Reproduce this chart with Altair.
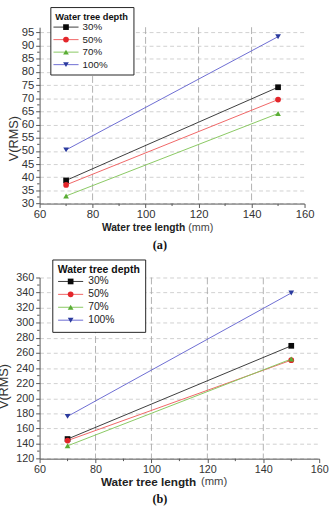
import altair as alt
import pandas as pd

# Measured breakdown voltage against water tree length, per water tree depth
lengths = [70, 150]
depths = ["30%", "50%", "70%", "100%"]

volts_a = {
    "30%": [38.8, 74.2],
    "50%": [37.1, 69.5],
    "70%": [32.9, 64.2],
    "100%": [50.4, 93.4],
}
volts_b = {
    "30%": [146, 269.5],
    "50%": [144, 250.5],
    "70%": [137, 252],
    "100%": [176, 339.5],
}

x_ticks = [60, 80, 100, 120, 140, 160]
x_minor = [70, 90, 110, 130, 150]
x_grid = [80, 100, 120, 140]

y_ticks_a = [30, 35, 40, 45, 50, 55, 60, 65, 70, 75, 80, 85, 90, 95]
y_minor_a = [32.5, 37.5, 42.5, 47.5, 52.5, 57.5, 62.5, 67.5, 72.5, 77.5, 82.5, 87.5, 92.5]
y_ticks_b = [120, 140, 160, 180, 200, 220, 240, 260, 280, 300, 320, 340, 360]
y_minor_b = [130, 150, 170, 190, 210, 230, 250, 270, 290, 310, 330, 350]

line_colors = ["#3a3a3a", "#f06464", "#88c860", "#6c6cd2"]
marker_colors = ["#0a0a0a", "#e3262b", "#5aad35", "#2b3b9e"]
marker_shapes = ["square", "circle", "triangle-up", "triangle-down"]
# legend line glyph (units of half the symbol size)
LEGEND_LINE = "M-4.4,0H4.4"
SYM = 34

FONT = "Liberation Sans"
NBSP = "\u00a0"


def panel(volts, cfg):
    rows = []
    for d in depths:
        for L, v in zip(lengths, volts[d]):
            rows.append({"length": L, "v": v, "depth": d})
    df = pd.DataFrame(rows)
    W, H = cfg["w"], cfg["h"]

    xs = alt.Scale(domain=[60, 160], nice=False, zero=False)
    ys = alt.Scale(domain=cfg["ydom"], nice=False, zero=False)

    x_axis = alt.Axis(
        values=x_ticks, format="d", title=None, grid=False, tickSize=4,
        labelPadding=1, domainColor="#555", tickColor="#555",
        labelFont=FONT, labelFontSize=cfg["lab"], labelColor="#333",
        labelFlush=False, labelOverlap=False,
    )
    y_axis = alt.Axis(
        values=cfg["yticks"], format="d", title="V(RMS)", grid=True,
        gridDash=[4, 3], gridColor="#c4c4c4", gridWidth=0.8, tickSize=4,
        labelPadding=2, domainColor="#555", tickColor="#555",
        labelFont=FONT, labelFontSize=cfg["lab"], labelColor="#333",
        titleFont=FONT, titleFontSize=13, titleFontWeight="normal",
        titleColor="#333", titleX=cfg["tx"], titleY=cfg["ty"],
        titleAlign="center", titleBaseline="middle", labelFlush=False,
        labelOverlap=False,
    )

    def X(field="length"):
        return alt.X(f"{field}:Q", scale=xs, axis=x_axis)

    def Y(field="v"):
        return alt.Y(f"{field}:Q", scale=ys, axis=y_axis)

    common = dict(
        title="Water tree depth" + NBSP * cfg["pad_title"], orient="none",
        legendX=cfg["lx"], legendY=cfg["ly"], padding=cfg["lpad"],
        titleFont=FONT, titleFontSize=cfg["ltitle"], titleFontWeight="bold",
        titlePadding=cfg["ltpad"],
        labelFont=FONT, labelFontSize=cfg["llab"],
        symbolSize=SYM, symbolStrokeWidth=1,
        symbolOffset=cfg["soff"], labelOffset=cfg["loff"],
        rowPadding=cfg["rowpad"],
    )
    # boxed legend showing the series lines
    leg_lines = alt.Legend(
        strokeColor="#222", fillColor="white", titleColor="#111",
        labelColor="#222", symbolType=LEGEND_LINE, symbolOpacity=1,
        **common,
    )
    # overlaid legend adding the series markers on top of the lines
    leg_marks = alt.Legend(
        titleOpacity=0, labelOpacity=0, symbolOpacity=1, **common,
    )

    vgrid = alt.Chart(pd.DataFrame({"length": x_grid})).mark_rule(
        color="#a8a8a8", strokeWidth=0.9, strokeDash=[7, 3]
    ).encode(x=X())

    lines = alt.Chart(df).mark_line(strokeWidth=1).encode(
        x=X(), y=Y(),
        color=alt.Color("depth:N", scale=alt.Scale(domain=depths, range=line_colors),
                        legend=leg_lines),
    )

    points = alt.Chart(df).mark_point(filled=True, opacity=1, size=SYM).encode(
        x=X(), y=Y(),
        fill=alt.Fill("depth:N", scale=alt.Scale(domain=depths, range=marker_colors),
                      legend=leg_marks),
        shape=alt.Shape("depth:N", scale=alt.Scale(domain=depths, range=marker_shapes),
                        legend=leg_marks),
    )

    yminor = alt.Chart(pd.DataFrame({"v": cfg["yminor"]})).mark_rule(
        color="#555", strokeWidth=1
    ).encode(y=Y(), x=alt.value(-2.5), x2=alt.value(0))

    xminor = alt.Chart(pd.DataFrame({"length": x_minor})).mark_rule(
        color="#555", strokeWidth=1
    ).encode(x=X(), y=alt.value(H), y2=alt.value(H + 2.5))

    one = alt.Data(values=[{}])
    xtitle = alt.Chart(one).mark_text(
        text="Water tree length", font=FONT, fontWeight="bold",
        fontSize=cfg["xt"], align="left", baseline="middle", color="#222",
    ).encode(x=alt.value(cfg["xtx"]), y=alt.value(cfg["xty"]))
    unit = alt.Chart(one).mark_text(
        text="(mm)", font=FONT, fontSize=cfg["ut"], align="left",
        baseline="middle", color="#444",
    ).encode(x=alt.value(cfg["utx"]), y=alt.value(cfg["xty"]))
    caption = alt.Chart(one).mark_text(
        text=cfg["cap"], font="Liberation Serif", fontWeight="bold",
        fontSize=12.5, align="center", baseline="middle", color="#111",
    ).encode(x=alt.value(cfg["cx"]), y=alt.value(cfg["cy"]))

    return alt.layer(
        vgrid, lines, points, yminor, xminor, xtitle, unit, caption
    ).resolve_scale(
        fill="independent", shape="independent"
    ).properties(width=W, height=H)


cfg_a = dict(
    w=271, h=180.4, ydom=[30, 97], yticks=y_ticks_a, yminor=y_minor_a,
    lab=11.5, tx=-26.3, ty=113.4,
    lx=11, ly=-20.6, lpad=5, ltitle=9.5, ltpad=1, llab=10, pad_title=7,
    soff=6, loff=12, rowpad=2.8,
    xt=10.5, xtx=63.7, xty=205.4, ut=11, utx=152,
    cap="(a)", cx=123, cy=222.4,
)
cfg_b = dict(
    w=286, h=185.3, ydom=[120, 360], yticks=y_ticks_b, yminor=y_minor_b,
    lab=11, tx=-37, ty=111,
    lx=13, ly=-18.4, lpad=5.5, ltitle=10.7, ltpad=1, llab=10.5, pad_title=6,
    soff=8, loff=12.7, rowpad=2.2,
    xt=12, xtx=62.7, xty=209.3, ut=11.5, utx=165,
    cap="(b)", cx=123, cy=226.3,
)

chart = alt.vconcat(
    panel(volts_a, cfg_a), panel(volts_b, cfg_b), spacing=8
).resolve_scale(
    color="independent", fill="independent", shape="independent"
).properties(
    padding={"left": -2.5, "top": 0, "right": 0, "bottom": 0}
).configure_view(stroke=None)

chart.save("out.html", embed_options={"renderer": "svg", "actions": False})
